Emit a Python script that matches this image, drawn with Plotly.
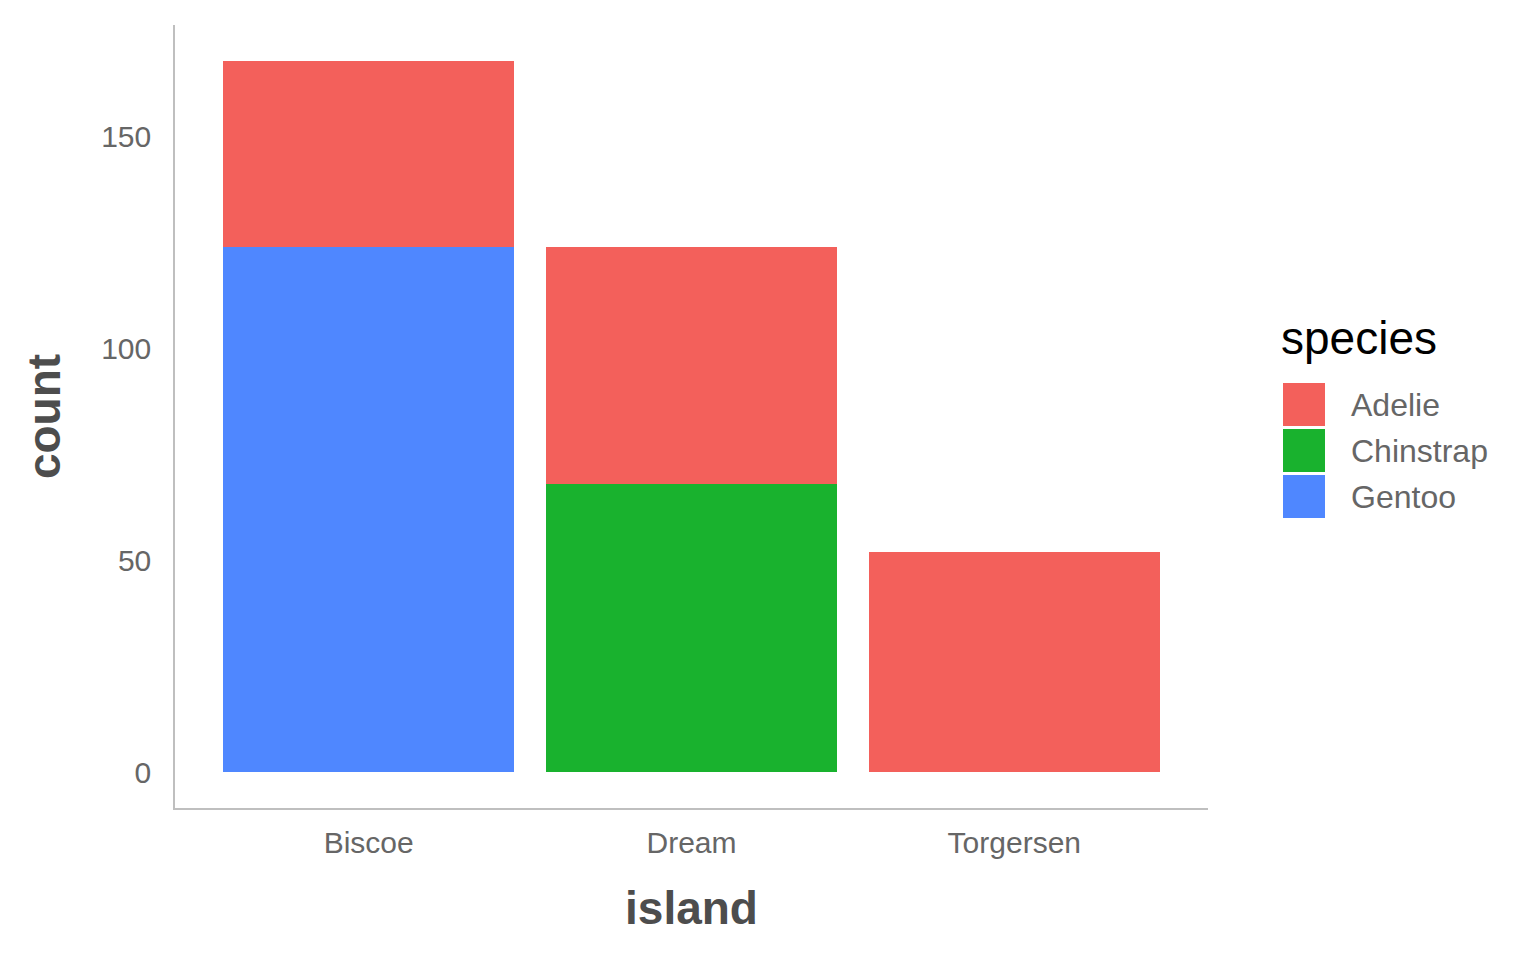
import plotly.graph_objects as go

islands = ["Biscoe", "Dream", "Torgersen"]
species = ["Adelie", "Chinstrap", "Gentoo"]
adelie = [44, 56, 52]
chinstrap = [0, 68, 0]
gentoo = [124, 0, 0]
colors = {"Adelie": "#F3605B", "Chinstrap": "#19B22E", "Gentoo": "#4F87FF"}
y_ticks = [0, 50, 100, 150]

W, H = 1536, 960
OFF = 8  # page body offset
L, R, T, B = 175, 1208, 25, 808  # plot area in screenshot pixels

def px2x(px):
    return (px - L) / (R - L)

def py2y(py):
    return (B - py) / (B - T)

fig = go.Figure()
# stack bottom to top: Gentoo, Chinstrap, Adelie
for name, vals in [("Gentoo", gentoo), ("Chinstrap", chinstrap), ("Adelie", adelie)]:
    fig.add_trace(go.Bar(x=islands, y=vals, name=name, marker_color=colors[name],
                         marker_line_width=0, width=0.9, showlegend=False))

font = "Liberation Sans, Arial, Helvetica, sans-serif"
fig.update_layout(
    barmode="stack",
    width=W, height=H,
    margin=dict(l=L - OFF, r=W - R + OFF, t=T - OFF, b=H - B + OFF, pad=0),
    paper_bgcolor="white", plot_bgcolor="white",
    font=dict(family=font),
    xaxis=dict(range=[-0.6, 2.6], showgrid=False, zeroline=False, showline=True,
               linecolor="#BFBFBF", linewidth=1.5, ticks="", ticklabelstandoff=7,
               tickfont=dict(size=30, color="#666666"),
               title=dict(text="<b>island</b>", font=dict(size=46, color="#4D4D4D"), standoff=34)),
    yaxis=dict(range=[-168 * 0.05, 168 * 1.05], showgrid=False, zeroline=False, showline=True,
               linecolor="#BFBFBF", linewidth=1.5, ticks="", ticklabelstandoff=16,
               tickvals=y_ticks, tickfont=dict(size=30, color="#666666"),
               title=dict(text="<b>count</b>", font=dict(size=46, color="#4D4D4D"), standoff=26)),
)

# manual legend
fig.add_annotation(x=px2x(1279), y=py2y(338), xref="paper", yref="paper", text="species",
                   showarrow=False, xanchor="left", yanchor="middle",
                   font=dict(size=46, color="black", family=font))
tops = [383, 429, 475]
for sp, top in zip(species, tops):
    fig.add_shape(type="rect", xref="paper", yref="paper",
                  x0=px2x(1283), x1=px2x(1325), y0=py2y(top), y1=py2y(top + 43),
                  fillcolor=colors[sp], line_width=0)
    fig.add_annotation(x=px2x(1349), y=py2y(top + 22), xref="paper", yref="paper", text=sp,
                       showarrow=False, xanchor="left", yanchor="middle",
                       font=dict(size=32, color="#666666", family=font))

fig.write_html("out.html")
